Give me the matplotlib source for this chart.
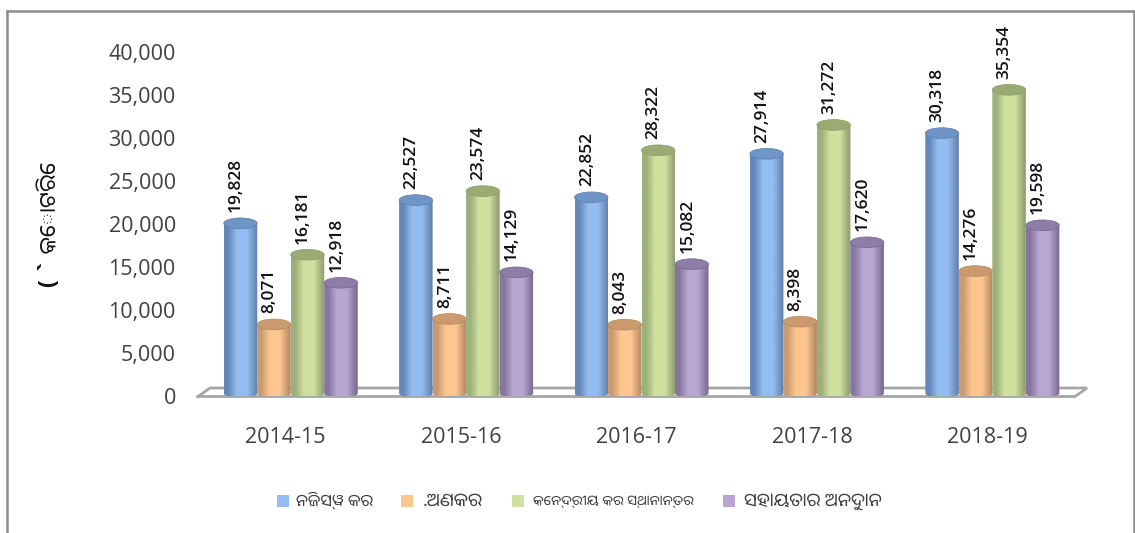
import numpy as np
import matplotlib
matplotlib.use("Agg")
import matplotlib.pyplot as plt
from matplotlib.patches import Ellipse, Rectangle, PathPatch
from matplotlib.path import Path
from matplotlib.lines import Line2D
from matplotlib.colors import LinearSegmentedColormap

plt.rcParams['font.family'] = ['Open Sans', 'Noto Sans Oriya', 'DejaVu Sans']

years = ["2014-15", "2015-16", "2016-17", "2017-18", "2018-19"]
own_tax = [19828, 22527, 22852, 27914, 30318]
non_tax = [8071, 8711, 8043, 8398, 14276]
central_transfer = [16181, 23574, 28322, 31272, 35354]
grants = [12918, 14129, 15082, 17620, 19598]
series_names = ["ନିଜସ୍ୱ କର", ".ଅଣକର", "କେନ୍ଦ୍ରୀୟ କର ସ୍ଥାନାନ୍ତର", "ସହାୟତାର ଅନୁଦାନ"]
y_label = "( ` କୋଟିରେ"
y_ticks = [0, 5000, 10000, 15000, 20000, 25000, 30000, 35000, 40000]

W, H = 1135, 533
fig = plt.figure(figsize=(W / 100, H / 100), dpi=100)
L, R, T, B = 198, 1075, 52, 396
ax = fig.add_axes([L / W, 1 - B / H, (R - L) / W, (B - T) / H])
ax.set_zorder(2)
ax.patch.set_alpha(0)
for s in ax.spines.values():
    s.set_visible(False)

palette = [
    ("#6488ba", "#93bdf0", "#5f7ea8", "#6f94c6"),
    ("#c89a70", "#fdc68f", "#ad8860", "#cb9a6e"),
    ("#9db07c", "#cfe09f", "#8a9a6c", "#9aab74"),
    ("#86769f", "#b9a6d3", "#75678c", "#8f7da9"),
]
data = [own_tax, non_tax, central_transfer, grants]
group_offset = 0.5 + 5 / 175.4
bar_w = 33.5 / 175.4
top_h = 1250
base_h = 930
base_c = 300
lift = 250

grad = np.linspace(0, 1, 64).reshape(1, -1)
for k, values in enumerate(data):
    dark, light, edge, top = palette[k]
    cmap = LinearSegmentedColormap.from_list(
        "c", [(0, dark), (0.12, dark), (0.38, light), (0.68, light), (1, edge)])
    for i, v in enumerate(values):
        cx = i + group_offset + (k - 1.5) * bar_w
        x0, x1 = cx - bar_w / 2, cx + bar_w / 2
        t = np.linspace(np.pi, 2 * np.pi, 30)
        xs = np.r_[x0, cx + np.cos(t) * bar_w / 2, x1, x0]
        ys = np.r_[v + lift, base_c + np.sin(t) * base_h / 2, v + lift, v + lift]
        clip = PathPatch(Path(np.c_[xs, ys]), transform=ax.transData, fc="none", ec="none")
        ax.add_patch(clip)
        im = ax.imshow(grad, extent=(x0, x1, base_c - base_h, v + lift), aspect="auto",
                       cmap=cmap, zorder=3 + k, interpolation="bilinear")
        im.set_clip_path(clip)
        ax.add_patch(Ellipse((cx, v + lift), bar_w, top_h, fc=top, ec=edge, lw=0.5, zorder=3.1 + k))
        ax.text(cx - 4.5 / 175.4, v + 1530, f"{v:,}", rotation=90, ha="center", va="bottom",
                fontsize=12.5, fontweight="semibold", color="#111111", zorder=10)
ax.set_xlim(0, 5)
ax.set_ylim(0, 40000)

ax.set_xticks(np.arange(5) + 0.5, years)
ax.set_yticks(y_ticks, [f"{t:,}" for t in y_ticks])
ax.tick_params(axis="both", length=0, labelsize=15.5, labelcolor="#404040")
ax.tick_params(axis="x", pad=22)
ax.tick_params(axis="y", pad=16)

def add_line(xs, ys, color="#a6a6a6", lw=2.0, z=1):
    fig.add_artist(Line2D([x / W for x in xs], [1 - y / H for y in ys], color=color, lw=lw, zorder=z,
                          solid_joinstyle="miter"))

add_line([198, 1075, 1087, 210, 198], [396.5, 396.5, 388, 388, 396.5])
add_line([7, 7], [533, 11], "#8c8c8c", 1.8)
add_line([7, 1134], [11, 11], "#8c8c8c", 1.8)
add_line([1134, 1134], [11, 533], "#8c8c8c", 1.8)

fig.text(50 / W, 1 - 224 / H, y_label, rotation=90, ha="center", va="center", fontsize=16.5,
         fontweight="bold", color="#111111")

leg_xs = [277, 401, 512, 723]
leg_tx = [296, 423, 533, 744]
leg_fs = [12, 13.5, 10.2, 13.3]
for x, tx, fs, p, name in zip(leg_xs, leg_tx, leg_fs, palette, series_names):
    fig.add_artist(Rectangle((x / W, 1 - 507 / H), 12 / W, 12 / H, fc=p[1], ec="none", transform=fig.transFigure))
    fig.text(tx / W, 1 - 501 / H, name, fontsize=fs, va="center", color="#404040")

fig.savefig("out.png", dpi=100)
